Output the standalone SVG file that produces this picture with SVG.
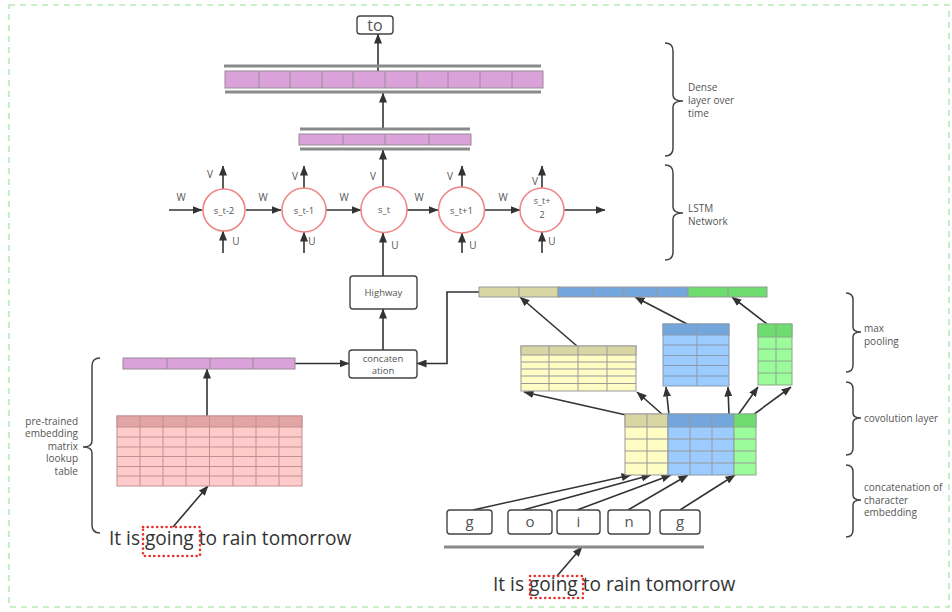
<svg xmlns="http://www.w3.org/2000/svg" width="952" height="612" viewBox="0 0 952 612">
<defs>
<marker id="ah" markerUnits="userSpaceOnUse" markerWidth="10" markerHeight="8" refX="9.5" refY="4" orient="auto">
<path d="M0,0 L10,4 L0,8 z" fill="#333"/>
</marker>
<style>
.ln{stroke:#333;stroke-width:1.6;fill:none}
.arr{stroke:#333;stroke-width:1.6;fill:none;marker-end:url(#ah)}
.t{font-family:"Open Sans","Liberation Sans",sans-serif;fill:#555}
.s{font-size:9.5px}
.lab{font-size:10px;fill:#555}
.circ{fill:#fff;stroke:#f08585;stroke-width:1.6}
.box{fill:#fff;stroke:#444;stroke-width:1.4}
.grey{stroke:#8a8a8a;stroke-width:3}
.purp{fill:#d9a3d9;stroke:#9a8a9a;stroke-width:1}
.brace{fill:none;stroke:#444;stroke-width:1.5}
.dot{fill:none;stroke:#e53030;stroke-width:2.6;stroke-dasharray:0.1 4.6;stroke-linecap:round}
.big{font-family:"Open Sans","Liberation Sans",sans-serif;font-size:19.1px;fill:#333}
</style>
</defs>
<rect x="9" y="5" width="940" height="602" fill="#fff" stroke="#b6eab6" stroke-width="1.6" stroke-dasharray="6 5"/>

<g id="connectors">
<path class="arr" d="M378,73 L378,34"/>
<path class="arr" d="M383,130 L383,93"/>
<path class="arr" d="M383,187 L383,150"/>
<path class="arr" d="M383,276 L383,233"/>
<path class="arr" d="M383,350 L383,309"/>
<path class="arr" d="M295,363.5 L349,363.5"/>
<path class="arr" d="M479,292 L447,292 L447,363.5 L417,363.5"/>
<path class="arr" d="M207,416 L207,369"/>
<path class="arr" d="M173,527 L208,486"/>
<path class="arr" d="M169,210 L202,210"/>
<path class="arr" d="M246,210 L281,210"/>
<path class="arr" d="M326,210 L361,210"/>
<path class="arr" d="M407,210 L438,210"/>
<path class="arr" d="M485,210 L520,210"/>
<path class="arr" d="M564,210 L605,210"/>
<path class="arr" d="M223,189 L223,166"/>
<path class="arr" d="M304,188 L304,166"/>
<path class="arr" d="M462,187 L462,166"/>
<path class="arr" d="M542,188 L542,166"/>
<path class="arr" d="M223,253 L223,231"/>
<path class="arr" d="M304,253 L304,232"/>
<path class="arr" d="M462,253 L462,233"/>
<path class="arr" d="M542,253 L542,232"/>
<path class="arr" d="M577,346 L520,297"/>
<path class="arr" d="M687,324 L635,297"/>
<path class="arr" d="M767,324 L732,297"/>
<path class="arr" d="M626,415 L524,392"/>
<path class="arr" d="M663,415 L637,392"/>
<path class="arr" d="M669,415 L666,387"/>
<path class="arr" d="M729,415 L728,387"/>
<path class="arr" d="M738,415 L758,387"/>
<path class="arr" d="M753,415 L791,387"/>
<path class="arr" d="M473,510 L631,475"/>
<path class="arr" d="M523,510 L651,475"/>
<path class="arr" d="M577,510 L671,475"/>
<path class="arr" d="M628,510 L688,475"/>
<path class="arr" d="M680,510 L735,475"/>
<path class="arr" d="M557,576 L582,547"/>
</g>

<g id="to-box">
<rect class="box" x="357" y="16" width="36" height="18" rx="3"/>
<text class="t" x="375" y="30.5" font-size="16" text-anchor="middle" fill="#333">to</text>
</g>

<g id="dense-bar">
<line class="grey" x1="224" y1="66" x2="541" y2="66"/>
<rect class="purp" x="225" y="71" width="318" height="17"/>
<path d="M259,71V88M290,71V88M322,71V88M353,71V88M385,71V88M417,71V88M448,71V88M480,71V88M512,71V88" stroke="#9a8a9a" stroke-width="1"/>
<line class="grey" x1="225" y1="92" x2="541" y2="92"/>
</g>

<g id="small-bar">
<line class="grey" x1="300" y1="129" x2="470" y2="129"/>
<rect class="purp" x="299" y="134" width="172" height="11"/>
<path d="M343,134V145M385,134V145M429,134V145" stroke="#9a8a9a" stroke-width="1"/>
<line class="grey" x1="300" y1="149" x2="470" y2="149"/>
</g>

<g id="lstm-labels" class="t lab">
<text x="181" y="201" text-anchor="middle">W</text>
<text x="263" y="201" text-anchor="middle">W</text>
<text x="344" y="201" text-anchor="middle">W</text>
<text x="419" y="201" text-anchor="middle">W</text>
<text x="503" y="201" text-anchor="middle">W</text>
<text x="210" y="178" text-anchor="middle">V</text>
<text x="295" y="180" text-anchor="middle">V</text>
<text x="373" y="180" text-anchor="middle">V</text>
<text x="450" y="180" text-anchor="middle">V</text>
<text x="535" y="185" text-anchor="middle">V</text>
<text x="236" y="245" text-anchor="middle">U</text>
<text x="312" y="245" text-anchor="middle">U</text>
<text x="395" y="249" text-anchor="middle">U</text>
<text x="473" y="249" text-anchor="middle">U</text>
<text x="552" y="245" text-anchor="middle">U</text>
</g>

<g id="s_t-2"><circle class="circ" cx="224" cy="210" r="21"/><text class="t s" x="224" y="213.5" text-anchor="middle">s_t-2</text></g>
<g id="s_t-1"><circle class="circ" cx="304" cy="210" r="22"/><text class="t s" x="304" y="213.5" text-anchor="middle">s_t-1</text></g>
<g id="s_t"><circle class="circ" cx="384" cy="209.5" r="23"/><text class="t s" x="384" y="213" text-anchor="middle">s_t</text></g>
<g id="s_t+1"><circle class="circ" cx="461.5" cy="210" r="23"/><text class="t s" x="461.5" y="213.5" text-anchor="middle">s_t+1</text></g>
<g id="s_t+2"><circle class="circ" cx="542" cy="210" r="22"/><text class="t" font-size="9" x="542" y="204" text-anchor="middle">s_t+</text><text class="t" font-size="9" x="542" y="218" text-anchor="middle">2</text></g>

<g id="highway">
<rect class="box" x="350" y="276" width="67" height="33" rx="3"/>
<text class="t s" x="383.5" y="296" text-anchor="middle">Highway</text>
</g>

<g id="concatenation">
<rect class="box" x="349" y="350" width="68" height="28" rx="3"/>
<text class="t s" x="383" y="361.5" text-anchor="middle">concaten</text>
<text class="t s" x="383" y="373.5" text-anchor="middle">ation</text>
</g>

<g id="word-embedding">
<rect class="purp" x="123" y="358" width="172" height="11"/>
<path d="M167,358V369M210,358V369M253,358V369" stroke="#9a8a9a" stroke-width="1"/>
</g>

<g id="lookup-table">
<rect x="117" y="416" width="185" height="70" fill="#ffcaca" stroke="#c09090" stroke-width="1"/>
<rect x="117" y="416" width="185" height="11" fill="#e2a4a4" stroke="#c09090" stroke-width="1"/>
<path d="M140,416V486M163,416V486M186,416V486M209.5,416V486M233,416V486M256,416V486M279,416V486M117,437H302M117,447H302M117,456.5H302M117,466.5H302M117,476H302" stroke="#c09090" stroke-width="1"/>
</g>

<g id="sentence-left">
<text class="big" x="109" y="545">It is going to rain tomorrow</text>
<rect class="dot" x="143" y="527" width="57" height="29"/>
</g>

<g id="pooled-concat">
<rect x="479" y="287" width="79" height="10" fill="#d8d6a2" stroke="#999" stroke-width="1"/>
<rect x="558" y="287" width="130" height="10" fill="#72a6dc" stroke="#999" stroke-width="1"/>
<rect x="688" y="287" width="79" height="10" fill="#6edc6e" stroke="#999" stroke-width="1"/>
<path d="M519,287V297M593,287V297M624,287V297M657,287V297M728,287V297" stroke="#999" stroke-width="1"/>
</g>

<g id="pool-yellow">
<rect x="521" y="346" width="115" height="45" fill="#fffcc4" stroke="#999" stroke-width="1"/>
<rect x="521" y="346" width="115" height="9" fill="#d8d6a2" stroke="#999" stroke-width="1"/>
<path d="M549,346V391M578,346V391M607,346V391M521,362H636M521,369H636M521,376H636M521,383.5H636" stroke="#999" stroke-width="1"/>
</g>

<g id="pool-blue">
<rect x="663" y="324" width="66" height="62" fill="#9ccbff" stroke="#8899aa" stroke-width="1"/>
<rect x="663" y="324" width="66" height="11" fill="#72a6dc" stroke="#8899aa" stroke-width="1"/>
<path d="M697,324V386M663,345H729M663,355.5H729M663,365.5H729M663,376H729" stroke="#8899aa" stroke-width="1"/>
</g>

<g id="pool-green">
<rect x="758" y="324" width="34" height="61" fill="#9cfc9c" stroke="#88aa88" stroke-width="1"/>
<rect x="758" y="324" width="34" height="13" fill="#6edc6e" stroke="#88aa88" stroke-width="1"/>
<path d="M776,324V385M758,349H792M758,361H792M758,373H792" stroke="#88aa88" stroke-width="1"/>
</g>

<g id="conv-stack">
<rect x="625" y="414" width="43" height="61" fill="#fffcc4" stroke="#999" stroke-width="1"/>
<rect x="625" y="414" width="43" height="13" fill="#d8d6a2" stroke="#999" stroke-width="1"/>
<rect x="668" y="414" width="66" height="61" fill="#9ccbff" stroke="#8899aa" stroke-width="1"/>
<rect x="668" y="414" width="66" height="13" fill="#72a6dc" stroke="#8899aa" stroke-width="1"/>
<rect x="734" y="414" width="22" height="61" fill="#9cfc9c" stroke="#88aa88" stroke-width="1"/>
<rect x="734" y="414" width="22" height="13" fill="#6edc6e" stroke="#88aa88" stroke-width="1"/>
<path d="M647,414V475M690,414V475M712,414V475M625,439H756M625,451H756M625,463H756" stroke="#999" stroke-width="1"/>
</g>

<g id="char-g1"><rect class="box" x="447" y="510" width="45" height="24" rx="3"/><text class="t" x="469.5" y="527" font-size="15" text-anchor="middle" fill="#333">g</text></g>
<g id="char-o"><rect class="box" x="508" y="510" width="44" height="24" rx="3"/><text class="t" x="530" y="527" font-size="15" text-anchor="middle" fill="#333">o</text></g>
<g id="char-i"><rect class="box" x="557" y="510" width="43" height="24" rx="3"/><text class="t" x="578.5" y="527" font-size="15" text-anchor="middle" fill="#333">i</text></g>
<g id="char-n"><rect class="box" x="608" y="510" width="42" height="24" rx="3"/><text class="t" x="629" y="527" font-size="15" text-anchor="middle" fill="#333">n</text></g>
<g id="char-g2"><rect class="box" x="660" y="510" width="40" height="24" rx="3"/><text class="t" x="680" y="527" font-size="15" text-anchor="middle" fill="#333">g</text></g>

<g id="char-baseline"><line class="grey" x1="444" y1="547" x2="704" y2="547"/></g>

<g id="sentence-right">
<text class="big" x="493" y="591">It is going to rain tomorrow</text>
<rect class="dot" x="530" y="576" width="53" height="22"/>
</g>

<g id="brace-dense">
<path class="brace" d="M665,43 Q673,43 673,51 L673,95 Q673,101 683,101 Q673,101 673,107 L673,148 Q673,156 665,156"/>
<text class="t lab" x="688" y="91">Dense</text>
<text class="t lab" x="688" y="104">layer over</text>
<text class="t lab" x="688" y="117">time</text>
</g>
<g id="brace-lstm">
<path class="brace" d="M665,165 Q673,165 673,173 L673,207 Q673,213 683,213 Q673,213 673,219 L673,252 Q673,260 665,260"/>
<text class="t lab" x="688" y="212">LSTM</text>
<text class="t lab" x="688" y="225">Network</text>
</g>
<g id="brace-maxpool">
<path class="brace" d="M846,293 Q853,293 853,300 L853,327 Q853,332 861,332 Q853,332 853,337 L853,365 Q853,372 846,372"/>
<text class="t lab" x="864" y="332">max</text>
<text class="t lab" x="864" y="345">pooling</text>
</g>
<g id="brace-conv">
<path class="brace" d="M846,382 Q853,382 853,389 L853,413 Q853,418 861,418 Q853,418 853,423 L853,448 Q853,455 846,455"/>
<text class="t lab" x="864" y="421.5">covolution layer</text>
</g>
<g id="brace-charemb">
<path class="brace" d="M846,465 Q853,465 853,472 L853,495 Q853,500 861,500 Q853,500 853,505 L853,530 Q853,537 846,537"/>
<text class="t lab" x="864" y="491">concatenation of</text>
<text class="t lab" x="864" y="503.5">character</text>
<text class="t lab" x="864" y="516">embedding</text>
</g>
<g id="brace-lookup">
<path class="brace" d="M100,358 Q92,358 92,366 L92,441 Q92,447 83,447 Q92,447 92,453 L92,525 Q92,533 100,533"/>
<text class="t lab" x="78" y="424.5" text-anchor="end">pre-trained</text>
<text class="t lab" x="78" y="437" text-anchor="end">embedding</text>
<text class="t lab" x="78" y="449.5" text-anchor="end">matrix</text>
<text class="t lab" x="78" y="462" text-anchor="end">lookup</text>
<text class="t lab" x="78" y="474.5" text-anchor="end">table</text>
</g>
</svg>
